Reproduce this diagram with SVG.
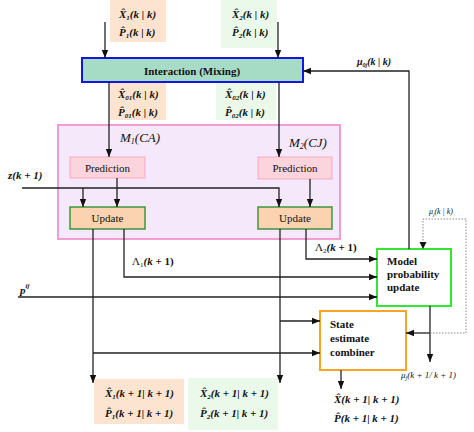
<svg xmlns="http://www.w3.org/2000/svg" width="474" height="432" viewBox="0 0 474 432">
<defs>
<marker id="ah" markerUnits="userSpaceOnUse" markerWidth="8" markerHeight="8" viewBox="0 0 8 8" refX="8" refY="4" orient="auto">
<path d="M0,0.8 L8,4 L0,7.2 Z" fill="#111"/>
</marker>
<style>
text{font-family:"Liberation Serif","Times New Roman",serif;fill:#111}
.m{font-weight:bold;font-style:italic;font-size:11px}
.s{font-size:7px}
.lbl{font-size:11px}
.b{font-weight:bold;font-size:11px}
.ln{fill:none;stroke:#222;stroke-width:1.3}
.arr{marker-end:url(#ah)}
.dot{fill:none;stroke:#888;stroke-width:1;stroke-dasharray:1.5 1.5}
.peach{fill:#fde4d0}
.mint{fill:#ebf9ea}
</style>
</defs>

<g id="in1"><rect class="peach" x="110" y="0" width="56" height="42"/>
<text class="m" x="119" y="18">X̂<tspan class="s" dy="2">1</tspan><tspan dy="-2">(k | k)</tspan></text>
<text class="m" x="119" y="36">P̂<tspan class="s" dy="2">1</tspan><tspan dy="-2">(k | k)</tspan></text></g>

<g id="in2"><rect class="mint" x="221" y="0" width="56" height="48"/>
<text class="m" x="232" y="18">X̂<tspan class="s" dy="2">2</tspan><tspan dy="-2">(k | k)</tspan></text>
<text class="m" x="232" y="36">P̂<tspan class="s" dy="2">2</tspan><tspan dy="-2">(k | k)</tspan></text></g>

<g id="mix0"><rect class="peach" x="110" y="82" width="56" height="38"/>
<text class="m" x="118" y="98">X̂<tspan class="s" dy="2">01</tspan><tspan dy="-2">(k | k)</tspan></text>
<text class="m" x="118" y="116">P̂<tspan class="s" dy="2">01</tspan><tspan dy="-2">(k | k)</tspan></text></g>

<g id="mix1"><rect class="mint" x="216" y="82" width="60" height="38"/>
<text class="m" x="225" y="98">X̂<tspan class="s" dy="2">02</tspan><tspan dy="-2">(k | k)</tspan></text>
<text class="m" x="225" y="116">P̂<tspan class="s" dy="2">02</tspan><tspan dy="-2">(k | k)</tspan></text></g>

<g id="interaction"><rect x="82" y="58" width="221" height="24" fill="#a6dcc6" stroke="#1515e0" stroke-width="2"/>
<text class="b" x="192" y="74.5" text-anchor="middle" font-size="12">Interaction (Mixing)</text></g>

<g id="filters"><rect x="58" y="125" width="282" height="114" fill="#f6e8fb" stroke="#f29ccf" stroke-width="2"/>
<text x="120" y="142" font-style="italic" font-size="13">M<tspan font-size="8" dy="2">1</tspan><tspan dy="-2">(CA)</tspan></text>
<text x="289" y="147" font-style="italic" font-size="13">M<tspan font-size="8" dy="2">2</tspan><tspan dy="-2">(CJ)</tspan></text></g>

<g id="pred1"><rect x="70" y="157" width="75" height="21" fill="#fcd4dc" stroke="#f5a9c2" stroke-width="1"/>
<text class="lbl" x="107.5" y="171.5" text-anchor="middle">Prediction</text></g>
<g id="pred2"><rect x="258" y="157" width="74" height="22" fill="#fcd4dc" stroke="#f5a9c2" stroke-width="1"/>
<text class="lbl" x="295" y="172" text-anchor="middle">Prediction</text></g>

<g id="upd1"><rect x="70" y="207" width="75" height="22" fill="#fbd3b0" stroke="#3c963c" stroke-width="1.5"/>
<text class="lbl" x="107.5" y="222" text-anchor="middle">Update</text></g>
<g id="upd2"><rect x="258" y="207" width="74" height="22" fill="#fbd3b0" stroke="#3c963c" stroke-width="1.5"/>
<text class="lbl" x="295" y="222" text-anchor="middle">Update</text></g>

<g id="model"><rect x="377" y="249" width="74" height="57" fill="#fff" stroke="#33e633" stroke-width="2"/>
<text class="b" x="387" y="265">Model</text>
<text class="b" x="387" y="278">probability</text>
<text class="b" x="387" y="291">update</text></g>

<g id="combiner"><rect x="320" y="311" width="86" height="59" fill="#fff" stroke="#f5a623" stroke-width="2"/>
<text class="b" x="330" y="328" font-size="12">State</text>
<text class="b" x="330" y="342" font-size="12">estimate</text>
<text class="b" x="330" y="356" font-size="12">combiner</text></g>

<g id="out1"><rect class="peach" x="94" y="379" width="90" height="45"/>
<text class="m" x="105" y="397">X̂<tspan class="s" dy="2">1</tspan><tspan dy="-2">(k + 1| k + 1)</tspan></text>
<text class="m" x="105" y="417">P̂<tspan class="s" dy="2">1</tspan><tspan dy="-2">(k + 1| k + 1)</tspan></text></g>
<g id="out2"><rect class="mint" x="188" y="378" width="90" height="52"/>
<text class="m" x="200" y="397">X̂<tspan class="s" dy="2">2</tspan><tspan dy="-2">(k + 1| k + 1)</tspan></text>
<text class="m" x="200" y="417">P̂<tspan class="s" dy="2">2</tspan><tspan dy="-2">(k + 1| k + 1)</tspan></text></g>

<g id="out3">
<text class="m" x="334" y="403" font-size="12">X̂(k + 1| k + 1)</text>
<text class="m" x="334" y="422" font-size="12">P̂(k + 1| k + 1)</text></g>

<g id="labels">
<text class="m" x="8" y="179" font-size="13">z(k + 1)</text>
<text class="m" x="20" y="294" font-size="14">p<tspan font-size="7" dy="-6">ij</tspan></text>
<text x="132" y="265" font-size="11">Λ<tspan font-size="7" dy="2">1</tspan><tspan dy="-2" font-style="italic" font-weight="bold">(k</tspan><tspan font-weight="bold"> + 1)</tspan></text>
<text x="315" y="251" font-size="11">Λ<tspan font-size="7" dy="2">2</tspan><tspan dy="-2" font-style="italic" font-weight="bold">(k</tspan><tspan font-weight="bold"> + 1)</tspan></text>
<text x="357" y="65" font-size="10" font-style="italic" font-weight="bold">μ<tspan font-size="6" dy="2">0j</tspan><tspan dy="-2">(k | k)</tspan></text>
<text x="429" y="214" font-size="8" font-style="italic">μ<tspan font-size="5" dy="2">j</tspan><tspan dy="-2">(k | k)</tspan></text>
<text x="401" y="378" font-size="9" font-style="italic">μ<tspan font-size="6" dy="2">j</tspan><tspan dy="-2">(k + 1/ k + 1)</tspan></text>
</g>

<g id="connectors">
<path class="ln arr" d="M105,22 V58"/>
<path class="ln arr" d="M278,22 V58"/>
<path class="ln arr" d="M109,82 V157"/>
<path class="ln arr" d="M279,82 V157"/>
<path class="ln arr" d="M22,188 H279 V207"/>
<path class="ln arr" d="M83,188 V207"/>
<path class="ln arr" d="M117,178 V207"/>
<path class="ln arr" d="M310,179 V207"/>
<path class="ln arr" d="M93,229 V383"/>
<path class="ln arr" d="M124,229 V277 H377"/>
<path class="ln arr" d="M280,229 V383"/>
<path class="ln arr" d="M306,229 V259 H377"/>
<path class="ln arr" d="M18,297 H377"/>
<path class="ln arr" d="M93,353 H320"/>
<path class="ln arr" d="M280,321 H320"/>
<path class="ln arr" d="M430,306 V362"/>
<path class="ln arr" d="M430,333 H406"/>
<path class="dot" d="M430,333 H466 V219 H423 V243"/>
<path d="M419.5,242 L426.5,242 L423,249 Z" fill="#111"/>
<path class="ln arr" d="M409,249 V71 H303"/>
<path class="ln arr" d="M341,370 V389"/>
</g>
</svg>
